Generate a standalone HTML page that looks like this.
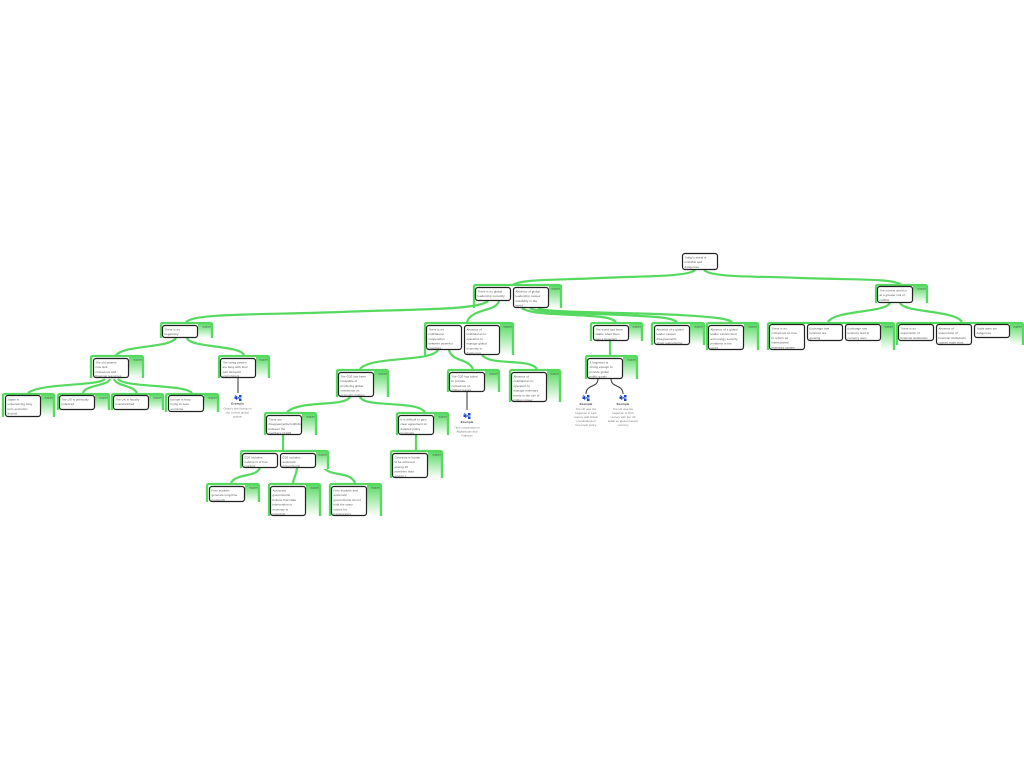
<!DOCTYPE html>
<html><head><meta charset="utf-8"><style>
html,body{margin:0;padding:0;background:#fff}
svg{display:block}
text{font-family:"Liberation Sans",sans-serif;font-size:2.8px;letter-spacing:.14px;fill:#4a4a4a;text-rendering:geometricPrecision}
.c{fill:none;stroke:#55d95f;stroke-width:2.2}
.d{fill:none;stroke:#333;stroke-width:1}
.f{fill:none;stroke:#55d95f;stroke-width:2.3}
.g{fill:url(#gr)}
.b{fill:#fff;stroke:#222;stroke-width:1.2}
.s{font-size:2.4px;letter-spacing:.1px;text-anchor:end;fill:#333}
.e{text-anchor:middle;font-size:2.6px;fill:#666}
.h{text-anchor:middle;font-size:2.9px;font-weight:bold;fill:#444}
.i{fill:#1b49c9}
</style></head><body>
<svg width="1024" height="768" viewBox="0 0 1024 768" xmlns="http://www.w3.org/2000/svg">
<defs><linearGradient id="gr" x1="0" y1="0" x2="0" y2="1"><stop offset="0" stop-color="#55d95f"/><stop offset="1" stop-color="#fff"/></linearGradient></defs>

<!-- connectors -->
<path class="c" d="M695,270C688,277 640,276 600,278C560,280 520,279 513,285"/>
<path class="c" d="M704,270C712,278 760,276 800,278C850,280 895,278 901,285"/>
<path class="c" d="M488,301C478,310 420,309 340,312C260,315 195,313 186,322"/>
<path class="c" d="M499,301C496,312 472,308 467,322"/>
<path class="c" d="M522,308C530,315 570,314 590,316C605,317 612,318 616,322"/>
<path class="c" d="M530,308C538,314 600,313 640,316C660,317 672,318 677,322"/>
<path class="c" d="M538,308C545,313 620,312 680,315C710,317 727,318 732,322"/>
<path class="c" d="M176,338C170,348 125,345 116,355"/>
<path class="c" d="M187,338C190,348 240,345 244,355"/>
<path class="c" d="M105,379C100,386 40,383 28,393"/>
<path class="c" d="M110,379C108,386 85,385 83,393"/>
<path class="c" d="M114,379C116,386 133,385 137,393"/>
<path class="c" d="M118,379C125,388 185,384 192,393"/>
<path class="c" d="M438,350C432,362 370,356 360,369"/>
<path class="c" d="M449,350C452,362 468,358 473,369"/>
<path class="c" d="M482,355C490,366 530,358 537,369"/>
<path class="c" d="M350,397C345,407 300,400 287,412"/>
<path class="c" d="M360,397C365,408 415,400 425,412"/>
<path class="c" d="M283,435V450"/>
<path class="c" d="M416,435V450"/>
<path class="c" d="M610,341V355"/>
<path class="c" d="M260,468C255,478 236,473 231,483"/>
<path class="c" d="M297,468C296,477 294,476 293,483"/>
<path class="c" d="M322,465C328,478 350,470 355,483"/>
<path class="c" stroke-width="1.2" d="M319,466L322,463L325,466"/>
<path class="c" d="M890,303C885,313 835,310 828,322"/>
<path class="c" d="M900,303C905,313 955,310 962,322"/>
<path class="d" d="M238,378V393"/>
<path class="d" d="M467,392V410"/>
<path class="d" d="M598,379C598,388 586,384 586,394"/>
<path class="d" d="M611,379C611,388 623,384 623,394"/>

<!-- groups -->
<rect class="g" x="549" y="285" width="12" height="23"/><path class="f" d="M474,308V287Q474,285 476,285H559Q561,285 561,287V308"/><text class="s" x="560" y="289.500">support</text>
<rect class="g" x="198" y="323" width="14" height="15"/><path class="f" d="M161,338V325Q161,323 163,323H210Q212,323 212,325V338"/><text class="s" x="211" y="327.500">support</text>
<rect class="g" x="129" y="356" width="14" height="22"/><path class="f" d="M91,378V358Q91,356 93,356H141Q143,356 143,358V378"/><text class="s" x="142" y="360.500">support</text>
<rect class="g" x="256" y="356" width="13" height="22"/><path class="f" d="M219,378V358Q219,356 221,356H267Q269,356 269,358V378"/><text class="s" x="268" y="360.500">support</text>
<rect class="g" x="41" y="394" width="13" height="23"/><path class="f" d="M3,417V396Q3,394 5,394H52Q54,394 54,396V417"/><text class="s" x="53" y="398.500">support</text>
<rect class="g" x="95" y="394" width="14" height="16"/><path class="f" d="M58,410V396Q58,394 60,394H107Q109,394 109,396V410"/><text class="s" x="108" y="398.500">support</text>
<rect class="g" x="149" y="394" width="14" height="16"/><path class="f" d="M112,410V396Q112,394 114,394H161Q163,394 163,396V410"/><text class="s" x="162" y="398.500">support</text>
<rect class="g" x="204" y="394" width="14" height="18"/><path class="f" d="M166,412V396Q166,394 168,394H216Q218,394 218,396V412"/><text class="s" x="217" y="398.500">support</text>
<rect class="g" x="500" y="323" width="13" height="32"/><path class="f" d="M425,355V325Q425,323 427,323H511Q513,323 513,325V355"/><text class="s" x="512" y="327.500">support</text>
<rect class="g" x="374" y="370" width="14" height="27"/><path class="f" d="M337,397V372Q337,370 339,370H386Q388,370 388,372V397"/><text class="s" x="387" y="374.500">support</text>
<rect class="g" x="485" y="370" width="14" height="22"/><path class="f" d="M448,392V372Q448,370 450,370H497Q499,370 499,372V392"/><text class="s" x="498" y="374.500">support</text>
<rect class="g" x="547" y="370" width="13" height="32"/><path class="f" d="M510,402V372Q510,370 512,370H558Q560,370 560,372V402"/><text class="s" x="559" y="374.500">support</text>
<rect class="g" x="302" y="413" width="14" height="22"/><path class="f" d="M265,435V415Q265,413 267,413H314Q316,413 316,415V435"/><text class="s" x="315" y="417.500">support</text>
<rect class="g" x="434" y="413" width="14" height="22"/><path class="f" d="M397,435V415Q397,413 399,413H446Q448,413 448,415V435"/><text class="s" x="447" y="417.500">support</text>
<rect class="g" x="316" y="451" width="12" height="18"/><path class="f" d="M241,468V453Q241,451 243,451H326Q328,451 328,453V469"/><text class="s" x="327" y="455.500">support</text>
<rect class="g" x="428" y="451" width="14" height="27"/><path class="f" d="M391,478V453Q391,451 393,451H440Q442,451 442,453V478"/><text class="s" x="441" y="455.500">support</text>
<rect class="g" x="245" y="484" width="14" height="18"/><path class="f" d="M207,502V486Q207,484 209,484H257Q259,484 259,486V502"/><text class="s" x="258" y="488.500">support</text>
<rect class="g" x="306" y="484" width="14" height="32"/><path class="f" d="M269,516V486Q269,484 271,484H318Q320,484 320,486V516"/><text class="s" x="319" y="488.500">support</text>
<rect class="g" x="367" y="484" width="14" height="32"/><path class="f" d="M330,516V486Q330,484 332,484H379Q381,484 381,486V516"/><text class="s" x="380" y="488.500">support</text>
<rect class="g" x="629" y="323" width="13" height="18"/><path class="f" d="M591,341V325Q591,323 593,323H640Q642,323 642,325V341"/><text class="s" x="641" y="327.500">support</text>
<rect class="g" x="623" y="356" width="14" height="23"/><path class="f" d="M586,379V358Q586,356 588,356H635Q637,356 637,358V379"/><text class="s" x="636" y="360.500">support</text>
<rect class="g" x="690" y="323" width="14" height="22"/><path class="f" d="M652,345V325Q652,323 654,323H702Q704,323 704,325V345"/><text class="s" x="703" y="327.500">support</text>
<rect class="g" x="744" y="323" width="14" height="27"/><path class="f" d="M707,350V325Q707,323 709,323H756Q758,323 758,325V350"/><text class="s" x="757" y="327.500">support</text>
<rect class="g" x="913" y="285" width="14" height="18"/><path class="f" d="M876,303V287Q876,285 878,285H925Q927,285 927,287V303"/><text class="s" x="926" y="289.500">support</text>
<rect class="g" x="881" y="323" width="13" height="27"/><path class="f" d="M768,350V325Q768,323 770,323H892Q894,323 894,325V350"/><text class="s" x="893" y="327.500">support</text>
<rect class="g" x="1010" y="323" width="13" height="22"/><path class="f" d="M897,345V325Q897,323 899,323H1021Q1023,323 1023,325V345"/><text class="s" x="1022" y="327.500">support</text>

<!-- nodes -->
<rect class="b" x="682.500" y="253.500" width="35" height="16" rx="2.500"/>
<text x="684.500" y="258.500">Today's world is<tspan x="684.500" y="263.200">unstable and</tspan><tspan x="684.500" y="267.900">dangerous</tspan></text>
<rect class="b" x="475.500" y="287.500" width="35" height="13" rx="2.500"/>
<text x="477.500" y="292.500">There is no global<tspan x="477.500" y="297.200">leadership currently</tspan></text>
<rect class="b" x="513.500" y="287.500" width="35" height="20" rx="2.500"/>
<text x="515.500" y="292.500">Absence of global<tspan x="515.500" y="297.200">leadership causes</tspan><tspan x="515.500" y="301.900">instability in the</tspan><tspan x="515.500" y="306.600">world</tspan></text>
<rect class="b" x="877.500" y="286.500" width="35" height="16" rx="2.500"/>
<text x="879.500" y="291.500">The current world is<tspan x="879.500" y="296.200">at a greater risk of</tspan><tspan x="879.500" y="300.900">conflict</tspan></text>
<rect class="b" x="162.500" y="325.500" width="35" height="12" rx="2.500"/>
<text x="164.500" y="330.500">There is no<tspan x="164.500" y="335.200">hegemony</tspan></text>
<rect class="b" x="93.500" y="358.500" width="35" height="19" rx="2.500"/>
<text x="95.500" y="363.500">The old powers<tspan x="95.500" y="368.200">now lack</tspan><tspan x="95.500" y="372.900">consensus and</tspan><tspan x="95.500" y="377">financial resources</tspan></text>
<rect class="b" x="220.500" y="358.500" width="35" height="19" rx="2.500"/>
<text x="222.500" y="363.500">The rising powers<tspan x="222.500" y="368.200">are busy with their</tspan><tspan x="222.500" y="372.900">own domestic</tspan><tspan x="222.500" y="377">environment</tspan></text>
<rect class="b" x="5.500" y="395.500" width="35" height="21" rx="2.500"/>
<text x="7.500" y="400.500">Japan is<tspan x="7.500" y="405.200">experiencing long-</tspan><tspan x="7.500" y="409.900">term economic</tspan><tspan x="7.500" y="414.600">decline</tspan></text>
<rect class="b" x="59.500" y="395.500" width="35" height="14" rx="2.500"/>
<text x="61.500" y="400.500">The US is politically<tspan x="61.500" y="405.200">polarized</tspan></text>
<rect class="b" x="113.500" y="395.500" width="35" height="14" rx="2.500"/>
<text x="115.500" y="400.500">The UK is fiscally<tspan x="115.500" y="405.200">overstretched</tspan></text>
<rect class="b" x="168.500" y="395.500" width="35" height="16" rx="2.500"/>
<text x="170.500" y="400.500">Europe is busy<tspan x="170.500" y="405.200">trying to save</tspan><tspan x="170.500" y="409.900">eurozone</tspan></text>
<rect class="b" x="426.500" y="325.500" width="35" height="24" rx="2.500"/>
<text x="428.500" y="330.500">There is no<tspan x="428.500" y="335.200">multilateral</tspan><tspan x="428.500" y="339.900">cooperation</tspan><tspan x="428.500" y="344.600">between powerful</tspan><tspan x="428.500" y="349">countries</tspan></text>
<rect class="b" x="464.500" y="325.500" width="35" height="29" rx="2.500"/>
<text x="466.500" y="330.500">Absence of<tspan x="466.500" y="335.200">multilateral co-</tspan><tspan x="466.500" y="339.900">operation to</tspan><tspan x="466.500" y="344.600">manage global</tspan><tspan x="466.500" y="349.300">economy is</tspan><tspan x="466.500" y="353.800">dangerous</tspan></text>
<rect class="b" x="338.500" y="372.500" width="35" height="24" rx="2.500"/>
<text x="340.500" y="377.500">The G20 has been<tspan x="340.500" y="382.200">incapable of</tspan><tspan x="340.500" y="386.900">producing global</tspan><tspan x="340.500" y="391.600">consensus on</tspan><tspan x="340.500" y="396">economic matters</tspan></text>
<rect class="b" x="449.500" y="372.500" width="35" height="19" rx="2.500"/>
<text x="451.500" y="377.500">The G20 has failed<tspan x="451.500" y="382.200">to provide</tspan><tspan x="451.500" y="386.900">consensus on</tspan><tspan x="451.500" y="390.900">military issues</tspan></text>
<rect class="b" x="511.500" y="372.500" width="35" height="29" rx="2.500"/>
<text x="513.500" y="377.500">Absence of<tspan x="513.500" y="382.200">multilateral co-</tspan><tspan x="513.500" y="386.900">operation to</tspan><tspan x="513.500" y="391.600">manage monetary</tspan><tspan x="513.500" y="396.300">levels in the use of</tspan><tspan x="513.500" y="400.800">military power</tspan></text>
<rect class="b" x="266.500" y="415.500" width="35" height="19" rx="2.500"/>
<text x="268.500" y="420.500">There are<tspan x="268.500" y="425.200">disagreements/conflicts</tspan><tspan x="268.500" y="429.900">between the</tspan><tspan x="268.500" y="434">members of G20</tspan></text>
<rect class="b" x="398.500" y="415.500" width="35" height="19" rx="2.500"/>
<text x="400.500" y="420.500">It is difficult to gain<tspan x="400.500" y="425.200">clear agreement on</tspan><tspan x="400.500" y="429.900">detailed policy</tspan><tspan x="400.500" y="434">proposals</tspan></text>
<rect class="b" x="242.500" y="453.500" width="35" height="14" rx="2.500"/>
<text x="244.500" y="458.500">G20 includes<tspan x="244.500" y="463.200">nations in of free</tspan><tspan x="244.500" y="467">markets</tspan></text>
<rect class="b" x="280.500" y="453.500" width="35" height="14" rx="2.500"/>
<text x="282.500" y="458.500">G20 includes<tspan x="282.500" y="463.200">autocratic</tspan><tspan x="282.500" y="467">governments</tspan></text>
<rect class="b" x="392.500" y="453.500" width="35" height="24" rx="2.500"/>
<text x="394.500" y="458.500">Cohesion is harder<tspan x="394.500" y="463.200">to be achieved</tspan><tspan x="394.500" y="467.900">among 20</tspan><tspan x="394.500" y="472.600">members than</tspan><tspan x="394.500" y="477">among 7</tspan></text>
<rect class="b" x="209.500" y="486.500" width="35" height="15" rx="2.500"/>
<text x="211.500" y="491.500">Free markets<tspan x="211.500" y="496.200">generate long-time</tspan><tspan x="211.500" y="500.900">prosperity</tspan></text>
<rect class="b" x="270.500" y="486.500" width="35" height="29" rx="2.500"/>
<text x="272.500" y="491.500">Autocratic<tspan x="272.500" y="496.200">governments</tspan><tspan x="272.500" y="500.900">believe that state</tspan><tspan x="272.500" y="505.600">intervention in</tspan><tspan x="272.500" y="510.300">economy is</tspan><tspan x="272.500" y="514.800">important</tspan></text>
<rect class="b" x="331.500" y="486.500" width="35" height="29" rx="2.500"/>
<text x="333.500" y="491.500">Free markets and<tspan x="333.500" y="496.200">autocratic</tspan><tspan x="333.500" y="500.900">governments do not</tspan><tspan x="333.500" y="505.600">hold the same</tspan><tspan x="333.500" y="510.300">values for</tspan><tspan x="333.500" y="514.800">transparency</tspan></text>
<rect class="b" x="593.500" y="325.500" width="35" height="15" rx="2.500"/>
<text x="595.500" y="330.500">The world had been<tspan x="595.500" y="335.200">stable when there</tspan><tspan x="595.500" y="339.900">was a hegemon</tspan></text>
<rect class="b" x="587.500" y="358.500" width="35" height="20" rx="2.500"/>
<text x="589.500" y="363.500">A hegemon is<tspan x="589.500" y="368.200">strong enough to</tspan><tspan x="589.500" y="372.900">provide global</tspan><tspan x="589.500" y="377.600">public goods</tspan></text>
<rect class="b" x="654.500" y="325.500" width="35" height="19" rx="2.500"/>
<text x="656.500" y="330.500">Absence of a global<tspan x="656.500" y="335.200">leader causes</tspan><tspan x="656.500" y="339.900">disagreements</tspan><tspan x="656.500" y="344">about restructuring</tspan></text>
<rect class="b" x="708.500" y="325.500" width="35" height="24" rx="2.500"/>
<text x="710.500" y="330.500">Absence of a global<tspan x="710.500" y="335.200">leader causes food</tspan><tspan x="710.500" y="339.900">and energy security</tspan><tspan x="710.500" y="344.600">problems in the</tspan><tspan x="710.500" y="349">world</tspan></text>
<rect class="b" x="769.500" y="324.500" width="35" height="25" rx="2.500"/>
<text x="771.500" y="329.500">There is no<tspan x="771.500" y="334.200">consensus on how</tspan><tspan x="771.500" y="338.900">to reform an</tspan><tspan x="771.500" y="343.600">international</tspan><tspan x="771.500" y="348.300">monetary system</tspan></text>
<rect class="b" x="807.500" y="324.500" width="35" height="16" rx="2.500"/>
<text x="809.500" y="329.500">Exchange rate<tspan x="809.500" y="334.200">tensions are</tspan><tspan x="809.500" y="338.900">growing</tspan></text>
<rect class="b" x="845.500" y="324.500" width="35" height="16" rx="2.500"/>
<text x="847.500" y="329.500">Exchange rate<tspan x="847.500" y="334.200">tensions lead to</tspan><tspan x="847.500" y="338.900">currency wars</tspan></text>
<rect class="b" x="898.500" y="324.500" width="35" height="16" rx="2.500"/>
<text x="900.500" y="329.500">There is no<tspan x="900.500" y="334.200">supervision of</tspan><tspan x="900.500" y="338.900">financial institutions</tspan></text>
<rect class="b" x="936.500" y="324.500" width="35" height="20" rx="2.500"/>
<text x="938.500" y="329.500">Absence of<tspan x="938.500" y="334.200">supervision of</tspan><tspan x="938.500" y="338.900">financial institutions</tspan><tspan x="938.500" y="343.300">causes trade wars</tspan></text>
<rect class="b" x="974.500" y="324.500" width="35" height="13" rx="2.500"/>
<text x="976.500" y="329.500">Trade wars are<tspan x="976.500" y="334.200">dangerous</tspan></text>

<!-- examples -->
<g transform="translate(238,397.500)"><rect class="i" x="-3.500" y="-1" width="2.500" height="2.500"/><rect class="i" x="1" y="-2.500" width="2.500" height="2.500"/><rect class="i" x="1" y="1" width="2.500" height="2.500"/><path d="M-3,-2.500L3,2.500M-2,2.500L2,-1" stroke="#1b49c9" stroke-width=".6" fill="none"/></g>
<text class="h" x="237.500" y="404.500">Example</text>
<text class="e" x="237.500" y="409.500">China's fine-tuning on<tspan x="237.500" y="413.500">the current global</tspan><tspan x="237.500" y="417.500">system</tspan></text>

<g transform="translate(467,415.500)"><rect class="i" x="-3.500" y="-1" width="2.500" height="2.500"/><rect class="i" x="1" y="-2.500" width="2.500" height="2.500"/><rect class="i" x="1" y="1" width="2.500" height="2.500"/><path d="M-3,-2.500L3,2.500M-2,2.500L2,-1" stroke="#1b49c9" stroke-width=".6" fill="none"/></g>
<text class="h" x="467" y="423">Example</text>
<text class="e" x="467" y="428.500">Their cooperation in<tspan x="467" y="432.500">Afghanistan and</tspan><tspan x="467" y="436.500">Pakistan</tspan></text>

<g transform="translate(586,397.500)"><rect class="i" x="-3.500" y="-1" width="2.500" height="2.500"/><rect class="i" x="1" y="-2.500" width="2.500" height="2.500"/><rect class="i" x="1" y="1" width="2.500" height="2.500"/><path d="M-3,-2.500L3,2.500M-2,2.500L2,-1" stroke="#1b49c9" stroke-width=".6" fill="none"/></g>
<text class="h" x="586" y="405">Example</text>
<text class="e" x="586" y="410">The UK was the<tspan x="586" y="414">hegemon in 19th</tspan><tspan x="586" y="418">century with British</tspan><tspan x="586" y="422">pound/adopted</tspan><tspan x="586" y="426">free-trade policy</tspan></text>

<g transform="translate(623,397.500)"><rect class="i" x="-3.500" y="-1" width="2.500" height="2.500"/><rect class="i" x="1" y="-2.500" width="2.500" height="2.500"/><rect class="i" x="1" y="1" width="2.500" height="2.500"/><path d="M-3,-2.500L3,2.500M-2,2.500L2,-1" stroke="#1b49c9" stroke-width=".6" fill="none"/></g>
<text class="h" x="623" y="405">Example</text>
<text class="e" x="623" y="410">The US was the<tspan x="623" y="414">hegemon in 20th</tspan><tspan x="623" y="418">century with the US</tspan><tspan x="623" y="422">dollar as global reserve</tspan><tspan x="623" y="426">currency</tspan></text>
</svg>
</body></html>
